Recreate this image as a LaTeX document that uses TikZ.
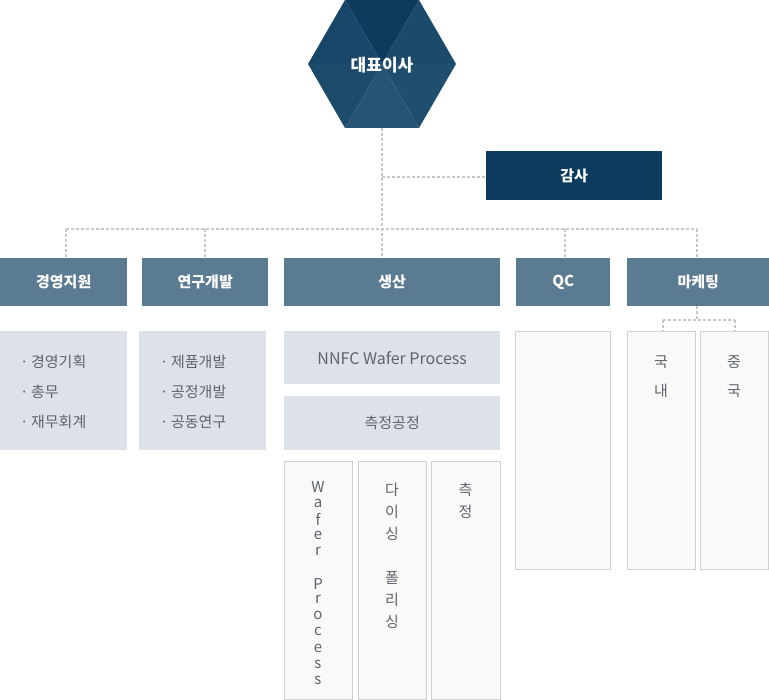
\documentclass[tikz,border=0pt]{standalone}
\usepackage{fontspec}
\setmainfont{Noto Sans CJK KR}
\usetikzlibrary{calc}
\definecolor{hexA}{HTML}{0E3A5C}
\definecolor{hexB}{HTML}{184668}
\definecolor{hexC}{HTML}{1D4B6C}
\definecolor{hexD}{HTML}{1C4A6B}
\definecolor{hexE}{HTML}{204E6F}
\definecolor{hexF}{HTML}{285474}
\definecolor{auditc}{HTML}{0C3B5E}
\definecolor{levelc}{HTML}{5B7B92}
\definecolor{contc}{HTML}{DCE2E8}
\definecolor{colfill}{HTML}{F9F9F9}
\definecolor{colline}{HTML}{D0D0D0}
\definecolor{dotc}{HTML}{C8C8C8}
\definecolor{txtc}{HTML}{5F646A}
\tikzset{
  dotline/.style={draw=dotc, line width=2pt, dash pattern=on 3pt off 2pt},
  levelbox/.style={fill=levelc, text=white, font=\fontsize{15}{18}\selectfont\bfseries, inner sep=0pt, anchor=north west},
  contbox/.style={fill=contc, inner sep=0pt, anchor=north west},
  colbox/.style={fill=colfill, draw=colline, line width=1pt, inner sep=0pt, anchor=north west},
  ctext/.style={text=txtc, font=\fontsize{15}{18}\selectfont, inner sep=0pt},
}
\begin{document}
\begin{tikzpicture}[x=1pt,y=-1pt]
\useasboundingbox (0,0) rectangle (769,700);
% hexagon
\coordinate (hc) at (382,64);
\coordinate (h1) at (345,0);
\coordinate (h2) at (419,0);
\coordinate (h3) at (456,64);
\coordinate (h4) at (419,128);
\coordinate (h5) at (345,128);
\coordinate (h6) at (308,64);
\fill[hexA] (hc) -- (h1) -- (h2) -- cycle;
\fill[hexD] (hc) -- (h2) -- (h3) -- cycle;
\fill[hexE] (hc) -- (h3) -- (h4) -- cycle;
\fill[hexF] (hc) -- (h4) -- (h5) -- cycle;
\fill[hexC] (hc) -- (h5) -- (h6) -- cycle;
\fill[hexB] (hc) -- (h6) -- (h1) -- cycle;
\node[text=white, font=\fontsize{17}{20}\selectfont\bfseries, inner sep=0pt] (ceo) at (382,65) {대표이사};
\coordinate (hb) at (382,128);

% audit
\node[fill=auditc, text=white, font=\fontsize{15}{18}\selectfont\bfseries, inner sep=0pt, minimum width=176pt, minimum height=49pt, anchor=north west] (audit) at (486,151) {감사};

% level boxes
\node[levelbox, minimum width=127pt, minimum height=48pt] (mgmt) at (0,258) {경영지원};
\node[levelbox, minimum width=126pt, minimum height=48pt] (rnd) at (142,258) {연구개발};
\node[levelbox, minimum width=216pt, minimum height=48pt] (prod) at (284,258) {생산};
\node[levelbox, minimum width=94pt, minimum height=48pt] (qc) at (516,258) {QC};
\node[levelbox, minimum width=142pt, minimum height=48pt] (mkt) at (627,258) {마케팅};

% connectors
\coordinate (ja) at (382,177);
\coordinate (b1) at (66,229);
\coordinate (b2) at (205,229);
\coordinate (b3) at (382,229);
\coordinate (b4) at (565,229);
\coordinate (b5) at (697,229);
\draw[dotline] (hb) -- (prod.north -| hb);
\draw[dotline] (ja) -- (audit.west |- ja);
\draw[dotline] (b1) -- (b5);
\draw[dotline] (b1) -- (mgmt.north -| b1);
\draw[dotline] (b2) -- (rnd.north -| b2);
\draw[dotline] (b4) -- (qc.north -| b4);
\draw[dotline] (b5) -- (mkt.north -| b5);

% content: mgmt
\node[contbox, minimum width=127pt, minimum height=119pt] (mgmtc) at (0,331) {};
\node[ctext, anchor=west] (m1) at (20,362) {·\,경영기획};
\node[ctext, anchor=west] (m2) at (20,392) {·\,총무};
\node[ctext, anchor=west] (m3) at (20,422) {·\,재무회계};
% content: rnd
\node[contbox, minimum width=127pt, minimum height=119pt] (rndc) at (139,331) {};
\node[ctext, anchor=west] (r1) at (160,362) {·\,제품개발};
\node[ctext, anchor=west] (r2) at (160,392) {·\,공정개발};
\node[ctext, anchor=west] (r3) at (160,422) {·\,공동연구};
% content: prod
\node[contbox, minimum width=216pt, minimum height=53pt] (nnfc) at (284,331) {};
\node[ctext, font=\fontsize{16}{19}\selectfont] (nnfct) at (nnfc.center) {NNFC Wafer Process};
\node[contbox, minimum width=216pt, minimum height=54pt] (meas) at (284,396) {};
\node[ctext] (meast) at (meas.center) {측정공정};
\node[colbox, minimum width=68pt, minimum height=238pt] (col1) at (284,461) {};
\node[colbox, minimum width=68pt, minimum height=238pt] (col2) at (358,461) {};
\node[colbox, minimum width=69pt, minimum height=238pt] (col3) at (431,461) {};
\foreach \c [count=\i] in {W,a,f,e,r,{},P,r,o,c,e,s,s}
  \node[ctext, font=\fontsize{15}{16}\selectfont] (wp\i) at (318,{487+16.1*(\i-1)}) {\c};
\foreach \c [count=\i] in {다,이,싱,{},폴,리,싱}
  \node[ctext] (dp\i) at (392,{490+22*(\i-1)}) {\c};
\foreach \c [count=\i] in {측,정}
  \node[ctext] (ms\i) at (465.5,{490+22*(\i-1)}) {\c};
% QC
\node[colbox, minimum width=95pt, minimum height=238pt] (qcc) at (515,331) {};
% marketing
\node[colbox, minimum width=68pt, minimum height=238pt] (dom) at (627,331) {};
\node[colbox, minimum width=68pt, minimum height=238pt] (chn) at (700,331) {};
\node[ctext] (d1) at (661,362) {국};
\node[ctext] (d2) at (661,391) {내};
\node[ctext] (c1) at (734,362) {중};
\node[ctext] (c2) at (734,391) {국};
\coordinate (mk0) at (697,320);
\coordinate (mk1) at (663,320);
\coordinate (mk2) at (735,320);
\draw[dotline] (mkt.south -| mk0) -- (mk0);
\draw[dotline] (mk1) -- (mk2);
\draw[dotline] (mk1) -- (dom.north -| mk1);
\draw[dotline] (mk2) -- (chn.north -| mk2);
\end{tikzpicture}
\end{document}
